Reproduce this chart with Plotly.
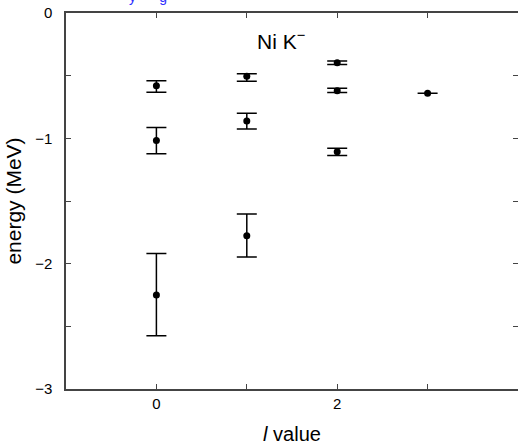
import plotly.graph_objects as go

# data
l_values = [0, 0, 0, 1, 1, 1, 2, 2, 2, 3]
energies = [-0.58, -1.017, -2.25, -0.505, -0.862, -1.777, -0.396, -0.62, -1.107, -0.641]
err_plus = [0.04, 0.104, 0.332, 0.021, 0.062, 0.173, 0.013, 0.02, 0.027, 0.0]
err_minus = [0.053, 0.106, 0.325, 0.04, 0.064, 0.17, 0.014, 0.014, 0.029, 0.0]

x_tickvals = [0, 1, 2, 3]
x_ticktext = ["0", "", "2", ""]
y_tickvals = [0, -0.5, -1, -1.5, -2, -2.5, -3]
y_ticktext = ["0", "", "\u22121", "", "\u22122", "", "\u22123"]

FONT = "Liberation Sans, Arial"

fig = go.Figure()
fig.add_trace(go.Scatter(
    x=l_values, y=energies, mode="markers",
    marker=dict(color="black", size=7),
    error_y=dict(type="data", symmetric=False, array=err_plus, arrayminus=err_minus,
                 color="black", thickness=1.5, width=10),
    showlegend=False,
))

axis_common = dict(
    showgrid=False, zeroline=False, showline=True, linecolor="#444", linewidth=1.5,
    mirror="ticks", ticks="inside", ticklen=5, tickcolor="#444", tickwidth=1.2,
    tickfont=dict(family=FONT, size=15, color="black"), automargin=False,
)

fig.update_layout(
    width=518, height=445,
    margin=dict(l=66, r=0, t=13, b=56),
    paper_bgcolor="white", plot_bgcolor="white",
    xaxis=dict(range=[-1, 4], tickvals=x_tickvals, ticktext=x_ticktext,
               title=dict(text="<i>l</i> value", standoff=22,
                          font=dict(family=FONT, size=20, color="black")),
               **axis_common),
    yaxis=dict(range=[-3, 0], tickvals=y_tickvals, ticktext=y_ticktext,
               ticklabelstandoff=9,
               title=dict(text="energy (MeV)", standoff=8,
                          font=dict(family=FONT, size=21, color="black")),
               **axis_common),
    annotations=[
        dict(text="Ni K<sup>\u2212</sup>", xref="paper", yref="paper", x=0.475, y=0.929,
             xanchor="center", yanchor="middle",
             showarrow=False, font=dict(family=FONT, size=21, color="black")),
        dict(text="y&nbsp;&nbsp;&nbsp;&nbsp;&nbsp;&nbsp;g", xref="paper", yref="paper",
             x=0.135, y=1.0, yshift=26, xanchor="left", yanchor="top", showarrow=False,
             font=dict(family=FONT, size=14, color="#3030ff")),
    ],
)

fig.write_html("out.html")
